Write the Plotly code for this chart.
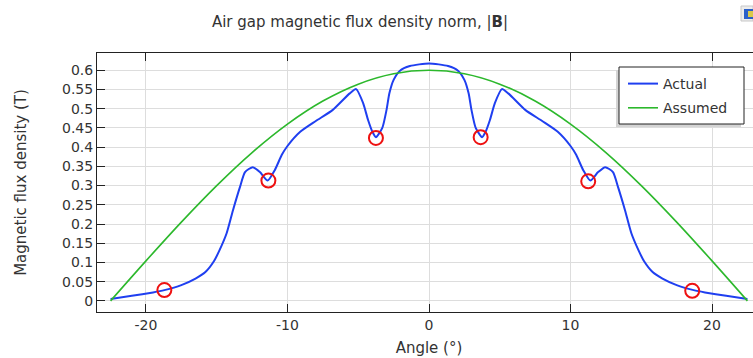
import plotly.graph_objects as go

# ---- data ----
angle_actual = [-22.5, -21.0, -19.5, -18.7, -17.5, -16.5, -15.8, -15.2, -14.8, -14.3,
                -13.85, -13.36, -13.0, -12.45, -11.95, -11.4, -10.9, -10.4, -10.0, -9.1,
                -8.0, -6.8, -5.6, -5.15, -4.66, -4.3, -4.0, -3.75, -3.3, -3.0,
                -2.8, -2.5, -2.05, -1.35, 0.0, 1.35, 2.05, 2.5, 2.8, 3.0,
                3.3, 3.75, 4.0, 4.3, 4.66, 5.15, 5.6, 6.8, 8.0, 9.1,
                10.0, 10.4, 10.9, 11.4, 11.95, 12.45, 13.0, 13.36, 13.85, 14.3,
                14.8, 15.2, 15.8, 16.5, 17.5, 18.7, 19.5, 21.0, 22.5]
b_actual = [0.005, 0.013, 0.022, 0.028, 0.041, 0.058, 0.075, 0.103, 0.132, 0.176,
            0.236, 0.296, 0.335, 0.348, 0.335, 0.313, 0.340, 0.380, 0.403, 0.440,
            0.468, 0.497, 0.540, 0.551, 0.515, 0.470, 0.440, 0.426, 0.450, 0.497,
            0.540, 0.575, 0.599, 0.611, 0.618, 0.611, 0.599, 0.575, 0.540, 0.497,
            0.450, 0.426, 0.440, 0.470, 0.515, 0.551, 0.540, 0.497, 0.468, 0.440,
            0.403, 0.380, 0.340, 0.313, 0.335, 0.348, 0.335, 0.296, 0.236, 0.176,
            0.132, 0.103, 0.075, 0.058, 0.041, 0.028, 0.022, 0.013, 0.005]

angle_assumed = [-22.5, -20.0, -17.5, -15.0, -12.5, -10.0, -7.5, -5.0, -2.5, 0.0,
                 2.5, 5.0, 7.5, 10.0, 12.5, 15.0, 17.5, 20.0, 22.5]
b_assumed = [0.000, 0.104, 0.205, 0.300, 0.386, 0.460, 0.520, 0.564, 0.591, 0.600,
             0.591, 0.564, 0.520, 0.460, 0.386, 0.300, 0.205, 0.104, 0.000]

marker_angle = [-18.7, -11.35, -3.75, 3.65, 11.25, 18.6]
marker_b = [0.028, 0.313, 0.424, 0.426, 0.311, 0.026]

x_ticks = [-20, -10, 0, 10, 20]
y_ticks = [0, 0.05, 0.1, 0.15, 0.2, 0.25, 0.3, 0.35, 0.4, 0.45, 0.5, 0.55, 0.6]
y_tick_text = ["0", "0.05", "0.1", "0.15", "0.2", "0.25", "0.3", "0.35", "0.4",
               "0.45", "0.5", "0.55", "0.6"]

FONT = "DejaVu Sans"
TXT = "#333333"

W, H = 763, 358
ML, MR, MT, MB = 97, 2, 53, 46
PW, PH = W - ML - MR, H - MT - MB


def px_x(p):
    return (p - ML) / PW


def px_y(p):
    return (H - MB - p) / PH


fig = go.Figure()
fig.add_trace(go.Scatter(x=angle_actual, y=b_actual, mode="lines", name="Actual",
                         legendgroup="a",
                         line=dict(color="#1f3ff0", width=2, shape="spline", smoothing=0.6)))
fig.add_trace(go.Scatter(x=angle_assumed, y=b_assumed, mode="lines", name="Assumed",
                         legendgroup="b",
                         line=dict(color="#2cb82c", width=1.6, shape="spline", smoothing=0.8)))
fig.add_trace(go.Scatter(x=marker_angle, y=marker_b, mode="markers", showlegend=False,
                         marker=dict(symbol="circle-open", size=14, color="#ee1111",
                                     line=dict(width=2, color="#ee1111"))))

# legend box with soft shadow
fig.add_shape(type="rect", xref="paper", yref="paper",
              x0=px_x(616), x1=px_x(741), y0=px_y(127), y1=px_y(70),
              fillcolor="#d4d4d4", line=dict(width=0), layer="above")
fig.add_shape(type="rect", xref="paper", yref="paper",
              x0=px_x(619), x1=px_x(744), y0=px_y(124), y1=px_y(67),
              fillcolor="white", line=dict(width=1, color="#222222"), layer="above")

# small toolbar-like icon in the top right corner
fig.add_shape(type="rect", xref="paper", yref="paper",
              x0=px_x(741), x1=px_x(753), y0=px_y(21), y1=px_y(6),
              fillcolor="#ececec", line=dict(width=1, color="#c8c8c8"), layer="above")
fig.add_shape(type="rect", xref="paper", yref="paper",
              x0=px_x(744), x1=px_x(753), y0=px_y(19), y1=px_y(9),
              fillcolor="#2a5fc8", line=dict(width=0), layer="above")
fig.add_shape(type="rect", xref="paper", yref="paper",
              x0=px_x(748), x1=px_x(753), y0=px_y(17), y1=px_y(11),
              fillcolor="#d9c94a", line=dict(width=0), layer="above")

fig.update_layout(
    width=W, height=H,
    margin=dict(l=ML, r=MR, t=MT, b=MB),
    paper_bgcolor="white", plot_bgcolor="white",
    font=dict(family=FONT, size=14, color=TXT),
    title=dict(text="Air gap magnetic flux density norm, |<b>B</b>|",
               x=360 / W, xref="container", xanchor="center",
               y=1 - 22 / H, yref="container", yanchor="middle",
               font=dict(family=FONT, size=15, color=TXT)),
    showlegend=True,
    legend=dict(x=px_x(623), y=px_y(68), xanchor="left", yanchor="top",
                bgcolor="rgba(0,0,0,0)", borderwidth=0, tracegroupgap=3,
                traceorder="grouped",
                font=dict(family=FONT, size=14, color=TXT)),
    xaxis=dict(range=[-23.46, 23.46], tickvals=x_ticks, ticktext=[str(v) for v in x_ticks],
               showgrid=True, gridcolor="#dddddd", gridwidth=1, zeroline=False,
               showline=True, linecolor="#222222", linewidth=1, mirror="allticks",
               ticks="inside", ticklen=8, tickcolor="#222222",
               tickfont=dict(size=14),
               title=dict(text="Angle (°)", standoff=10, font=dict(size=15))),
    yaxis=dict(range=[-0.029, 0.645], tickvals=y_ticks, ticktext=y_tick_text,
               showgrid=True, gridcolor="#dddddd", gridwidth=1, zeroline=False,
               showline=True, linecolor="#222222", linewidth=1, mirror="allticks",
               ticks="inside", ticklen=8, tickcolor="#222222",
               tickfont=dict(size=14),
               title=dict(text="Magnetic flux density (T)", standoff=31, font=dict(size=15))),
)

fig.write_html(
    "out.html",
    post_script="document.documentElement.style.overflow='hidden';"
                "document.body.style.overflow='hidden';",
)
